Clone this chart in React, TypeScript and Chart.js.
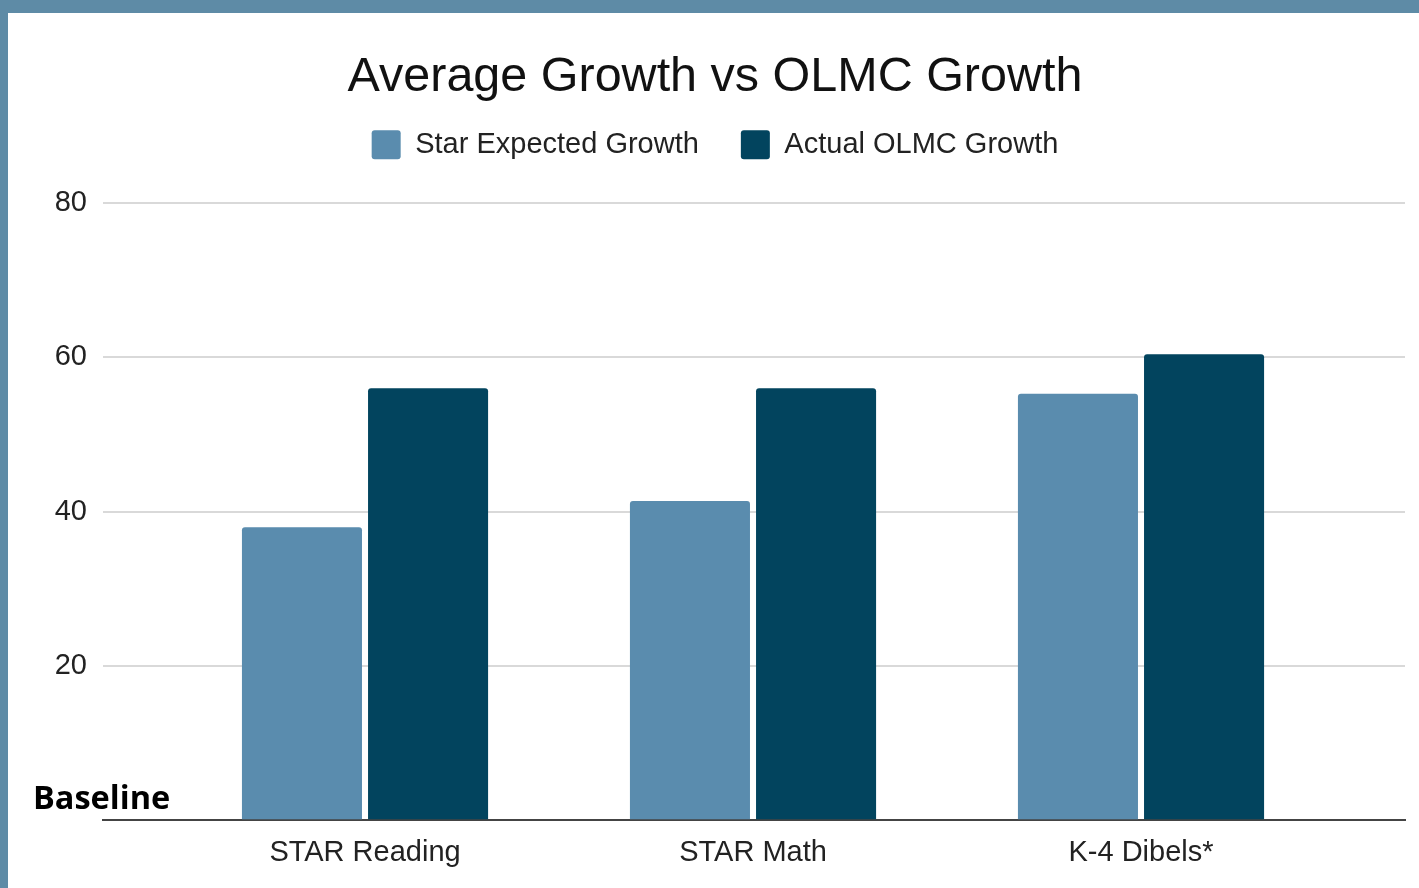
import React, { useEffect, useRef } from 'react';
import { Chart, registerables } from 'chart.js';

Chart.register(...registerables);

const chartTitle = 'Average Growth vs OLMC Growth';
const categories = ['STAR Reading', 'STAR Math', 'K-4 Dibels*'];
const seriesNames = ['Star Expected Growth', 'Actual OLMC Growth'];
const starExpected = [38, 41.4, 55.3];
const actualOLMC = [56, 56, 60.4];
const yTickValues = [0, 20, 40, 60, 80];
const baselineLabel = 'Baseline';

const FONT = '"Liberation Sans", Arial, sans-serif';

const baselinePlugin = {
  id: 'baselineLabel',
  afterDraw(chart: any) {
    const { ctx } = chart;
    const y = chart.scales.y.getPixelForValue(0);
    ctx.save();
    ctx.font = 'bold 32.5px "Open Sans", sans-serif';
    ctx.fillStyle = '#000000';
    ctx.textAlign = 'left';
    ctx.textBaseline = 'alphabetic';
    ctx.fillText(baselineLabel, 25, y - 11);
    ctx.restore();
  },
};

const legendSpacer = {
  id: 'legendSpacer',
  afterInit(chart: any) {
    const legend = chart.legend;
    if (!legend || legend.__patched) return;
    const orig = legend.fit;
    legend.fit = function () {
      orig.call(this);
      this.height += 34;
    };
    legend.__patched = true;
  },
};

export default function App() {
  const ref = useRef<HTMLCanvasElement>(null);

  useEffect(() => {
    document.body.style.margin = '0';
    const chart = new Chart(ref.current as HTMLCanvasElement, {
      type: 'bar',
      data: {
        datasets: [
          {
            label: seriesNames[0],
            data: starExpected.map((v, i) => ({ x: i, y: v })),
            backgroundColor: '#5a8cae',
            borderRadius: 3,
            categoryPercentage: 0.65,
            barPercentage: 0.952,
          },
          {
            label: seriesNames[1],
            data: actualOLMC.map((v, i) => ({ x: i, y: v })),
            backgroundColor: '#02445e',
            borderRadius: 3,
            categoryPercentage: 0.65,
            barPercentage: 0.952,
          },
        ],
      },
      plugins: [baselinePlugin, legendSpacer],
      options: {
        animation: false,
        responsive: true,
        maintainAspectRatio: false,
        layout: { padding: { left: 17, right: 14, top: 0, bottom: 3 } },
        plugins: {
          title: {
            display: true,
            text: chartTitle,
            color: '#111111',
            font: { family: FONT, size: 48.5, weight: 'normal' },
            padding: { top: 36, bottom: -19 },
          },
          legend: {
            display: true,
            position: 'top',
            labels: {
              boxWidth: 29,
              boxHeight: 29,
              padding: 42,
              color: '#222222',
              font: { family: FONT, size: 29 },
              useBorderRadius: true,
              borderRadius: 3,
            },
          },
          tooltip: { enabled: false },
        },
        scales: {
          x: {
            type: 'linear',
            bounds: 'data',
            offset: false,
            min: -0.6753,
            max: 2.6804,
            afterBuildTicks: (scale: any) => {
              scale.ticks = categories.map((_, i) => ({ value: i }));
            },
            grid: { display: false, drawTicks: false, offset: false },
            border: { display: true, color: '#444444', width: 2 },
            ticks: {
              padding: 15,
              color: '#222222',
              font: { family: FONT, size: 29 },
              maxRotation: 0,
              autoSkip: false,
              callback: (v: any) => categories[Math.round(Number(v))] ?? '',
            },
          },
          y: {
            min: yTickValues[0],
            max: yTickValues[yTickValues.length - 1],
            afterBuildTicks: (scale: any) => {
              scale.ticks = yTickValues.map((v) => ({ value: v }));
            },
            afterFit: (scale: any) => {
              scale.width = 78;
            },
            grid: { color: '#d9d9d9', lineWidth: 2, drawTicks: false },
            border: { display: false },
            ticks: {
              padding: 16,
              color: '#222222',
              font: { family: FONT, size: 29 },
              callback: (v: any) => (Number(v) === 0 ? '' : String(v)),
            },
          },
        },
      },
    } as any);
    return () => chart.destroy();
  }, []);

  return (
    <div
      style={{
        position: 'fixed',
        left: 0,
        top: 0,
        width: 1419,
        height: 888,
        background: '#5e8ba6',
        overflow: 'hidden',
      }}
    >
      <div
        style={{
          position: 'absolute',
          left: 8,
          top: 13,
          width: 1411,
          height: 875,
          background: '#ffffff',
        }}
      >
        <div style={{ position: 'relative', width: '100%', height: '100%' }}>
          <canvas ref={ref} />
        </div>
      </div>
    </div>
  );
}
